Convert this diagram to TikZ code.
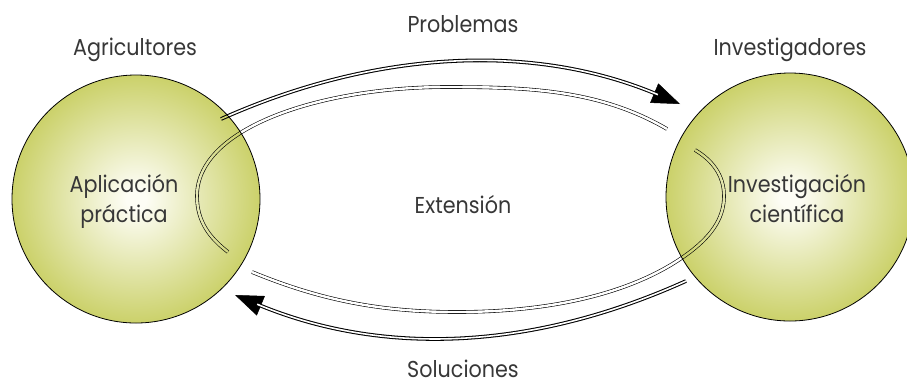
\documentclass[tikz,border=0pt]{standalone}
\usepackage{fontspec}
\setmainfont{Poppins}[FakeStretch=0.9]
\usetikzlibrary{arrows.meta}
\definecolor{olv}{RGB}{203,209,106}
\definecolor{ctr}{RGB}{253,253,245}
\definecolor{txt}{RGB}{55,55,55}
\pgfdeclareradialshading{ballgrad}{\pgfpoint{0bp}{0bp}}{color(0bp)=(ctr); color(2bp)=(ctr); color(25bp)=(olv); color(50bp)=(olv)}
\begin{document}
\begin{tikzpicture}[x=1pt,y=-1pt,
  ball/.style={circle, draw=black, line width=0.8pt, minimum size=248pt, inner sep=0pt, shade, shading=ballgrad},
  tx/.style={font=\fontsize{23}{28}\selectfont, text=txt, inner sep=0pt, anchor=base},
  thickdbl/.style={draw=black, line width=1.05pt, double=white, double distance=1.6pt},
  thindbl/.style={draw=black, line width=0.6pt, double=white, double distance=2.4pt},
  tipline/.style={draw=black, line width=0.5pt, -{Triangle[length=28pt,width=21pt]}}]
\useasboundingbox (0,0) rectangle (907,384);
% circles
\node[ball] (agri) at (136,199) {};
\node[ball] (inv) at (790,197) {};
% labels
\node[tx] (prob) at (463,32) {Problemas};
\node[tx] (sol) at (463,377) {Soluciones};
\node[tx] (agrit) at (135,55) {Agricultores};
\node[tx] (invt) at (790,55) {Investigadores};
\node[tx] (ext) at (463,213) {Extensión};
\node[tx] (apl1) at (124,192) {Aplicación};
\node[tx] (apl2) at (124,222) {práctica};
\node[tx] (inv1) at (797,192) {Investigación};
\node[tx] (inv2) at (797,222) {científica};
% connector end points
\coordinate (ps) at (221,119);
\coordinate (pe) at (680,104);
\coordinate (ss) at (686,281);
\coordinate (se) at (235,295);
\coordinate (e1s) at (667,129);
\coordinate (e1e) at (228,252);
\coordinate (e2s) at (252,272);
\coordinate (e2e) at (695,150);
\begin{scope}[blend mode=multiply]
\begin{scope}[transparency group]
% extension loop
\draw[thindbl] (e1s) .. controls (600,90) and (530,87) .. (447,87)
  .. controls (322,87) and (197,127) .. (197,196)
  .. controls (197,222) and (210,238) .. (e1e);
\draw[thindbl] (e2s) .. controls (320,300) and (380,312) .. (457,312)
  .. controls (560,312) and (640,290) .. (690,252)
  .. controls (715,233) and (724,215) .. (724,196)
  .. controls (724,175) and (712,160) .. (e2e);
% problemas arrow
\draw[tipline] (ps) .. controls (366,54) and (526,39) .. (pe);
\draw[thickdbl, shorten >=24pt] (ps) .. controls (366,54) and (526,39) .. (pe);
% soluciones arrow
\draw[tipline] (ss) .. controls (542,346) and (391,360) .. (se);
\draw[thickdbl, shorten >=24pt] (ss) .. controls (542,346) and (391,360) .. (se);
\end{scope}
\end{scope}
\end{tikzpicture}
\end{document}
